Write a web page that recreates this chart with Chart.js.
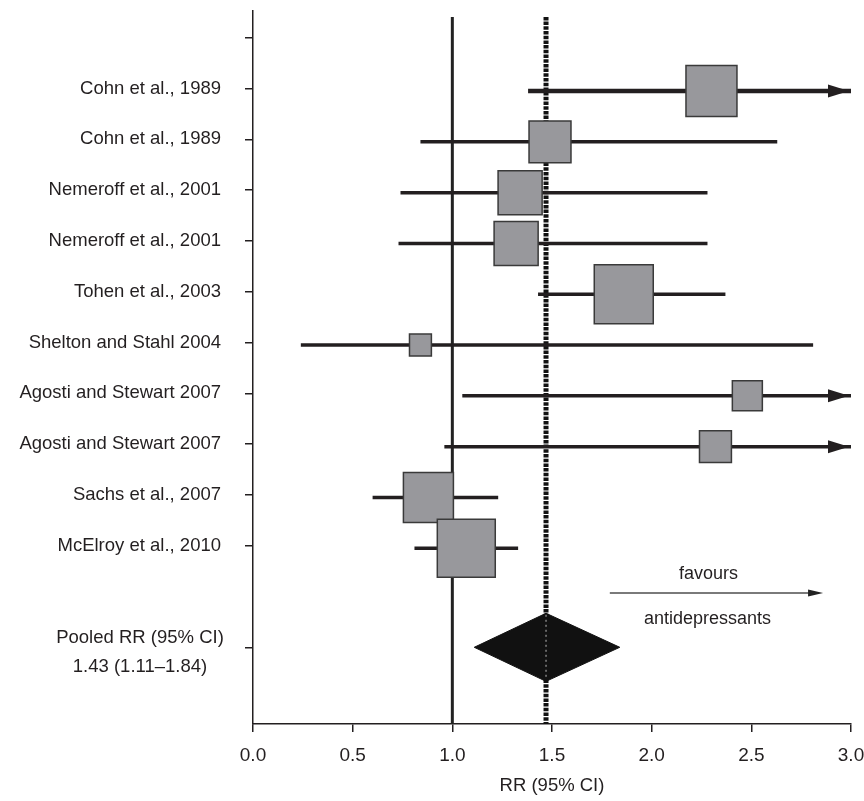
<!DOCTYPE html>
<html>
<head>
<meta charset="utf-8">
<script src="https://cdn.jsdelivr.net/npm/chart.js@4.4.0/dist/chart.umd.min.js"></script>
<style>
  body { margin: 0; background: #fff; }
</style>
</head>
<body>
<canvas id="forest" width="864" height="801"></canvas>
<script>
// study data (top row first)
const studies = [
  'Cohn et al., 1989', 'Cohn et al., 1989',
  'Nemeroff et al., 2001', 'Nemeroff et al., 2001',
  'Tohen et al., 2003', 'Shelton and Stahl 2004',
  'Agosti and Stewart 2007', 'Agosti and Stewart 2007',
  'Sachs et al., 2007', 'McElroy et al., 2010'
];
const rr = [2.30, 1.49, 1.34, 1.32, 1.86, 0.84, 2.48, 2.32, 0.88, 1.07];
const ciLow = [1.38, 0.84, 0.74, 0.73, 1.43, 0.24, 1.05, 0.96, 0.60, 0.81];
const ciHigh = [3.0, 2.63, 2.28, 2.28, 2.37, 2.81, 3.0, 3.0, 1.23, 1.33];
// upper limit runs off the axis (drawn as arrow)
const pastAxis = [true, false, false, false, false, false, true, true, false, false];
// relative study weights (box area)
const weights = [13.0, 8.8, 9.7, 9.7, 17.4, 2.4, 4.5, 5.1, 12.5, 16.8];

// pooled estimate (diamond as drawn)
const pooledLow = 1.11;
const pooledMark = 1.47;
const pooledHigh = 1.84;
const pooledLabel = ['Pooled RR (95% CI)', '1.43 (1.11\u20131.84)'];

const xTicks = [0, 0.5, 1, 1.5, 2, 2.5, 3];
const rowTicks = [0, 1, 2, 3, 4, 5, 6, 7, 8, 9, 10, 12];
const pooledRow = 12;

const FONT = '"Liberation Sans", Arial, Helvetica, sans-serif';
const INK = '#231f20';
const rowOf = i => i + 1.05;

// CI lines, one dataset per study
const ciSets = studies.map((s, i) => ({
  type: 'line',
  data: [{ x: ciLow[i], y: rowOf(i) }, { x: ciHigh[i], y: rowOf(i) }],
  borderColor: INK,
  borderWidth: i === 0 ? 4.5 : 3.5,
  pointRadius: 0,
  order: 4
}));

const boxSet = {
  type: 'scatter',
  data: rr.map((v, i) => ({ x: v, y: rowOf(i) })),
  pointStyle: 'rect',
  pointRadius: weights.map(w => 10 * Math.sqrt(w)),
  backgroundColor: '#98989c',
  borderColor: '#3a3a3a',
  borderWidth: 1.5,
  order: 1
};

const diamondSet = {
  type: 'line',
  data: [
    { x: pooledLow, y: pooledRow },
    { x: pooledMark, y: pooledRow - 0.67 },
    { x: pooledHigh, y: pooledRow },
    { x: pooledMark, y: pooledRow + 0.67 },
    { x: pooledLow, y: pooledRow }
  ],
  borderColor: '#111',
  backgroundColor: '#111',
  borderWidth: 1,
  pointRadius: 0,
  fill: 'shape',
  tension: 0,
  order: 3
};

const diamondDots = {
  type: 'line',
  data: [{ x: pooledMark, y: pooledRow - 0.64 }, { x: pooledMark, y: pooledRow + 0.64 }],
  borderColor: '#bbbbbb',
  borderWidth: 1,
  borderDash: [2, 3],
  pointRadius: 0,
  order: 2
};

const pooledLine = {
  type: 'line',
  data: [{ x: pooledMark, y: -0.41 }, { x: pooledMark, y: 13.51 }],
  borderColor: '#111',
  borderWidth: 5,
  borderDash: [3.5, 1.2],
  pointRadius: 0,
  order: 5
};

const nullLine = {
  type: 'line',
  data: [{ x: 1, y: -0.41 }, { x: 1, y: 13.51 }],
  borderColor: '#222',
  borderWidth: 3,
  pointRadius: 0,
  order: 6
};

// arrowheads, pooled label and "favours" note
const extras = {
  id: 'extras',
  afterDatasetsDraw(chart) {
    const { ctx, chartArea, scales: { x, y } } = chart;
    ctx.save();
    ctx.fillStyle = INK;
    pastAxis.forEach((p, i) => {
      if (!p) return;
      const py = y.getPixelForValue(rowOf(i));
      const tip = chartArea.right - 2;
      ctx.beginPath();
      ctx.moveTo(tip, py);
      ctx.lineTo(tip - 21, py - 6.5);
      ctx.lineTo(tip - 21, py + 6.5);
      ctx.closePath();
      ctx.fill();
    });

    // favours antidepressants
    const ay = y.getPixelForValue(10.93);
    const ax0 = x.getPixelForValue(1.79);
    const ax1 = x.getPixelForValue(2.86);
    ctx.strokeStyle = '#7a7a7a';
    ctx.lineWidth = 2;
    ctx.beginPath();
    ctx.moveTo(ax0, ay);
    ctx.lineTo(ax1 - 10, ay);
    ctx.stroke();
    ctx.fillStyle = '#222';
    ctx.beginPath();
    ctx.moveTo(ax1, ay);
    ctx.lineTo(ax1 - 15, ay - 3.5);
    ctx.lineTo(ax1 - 15, ay + 3.5);
    ctx.closePath();
    ctx.fill();

    ctx.fillStyle = INK;
    ctx.font = '18px ' + FONT;
    ctx.textAlign = 'center';
    ctx.textBaseline = 'middle';
    ctx.fillText('favours', x.getPixelForValue(2.285), y.getPixelForValue(10.56));
    ctx.fillText('antidepressants', x.getPixelForValue(2.28), y.getPixelForValue(11.45));

    // pooled label, centred lines
    ctx.font = '18.5px ' + FONT;
    const py = y.getPixelForValue(pooledRow);
    ctx.fillText(pooledLabel[0], 140, py - 9.5);
    ctx.fillText(pooledLabel[1], 140, py + 19.5);
    ctx.restore();
  }
};

new Chart(document.getElementById('forest'), {
  type: 'scatter',
  data: {
    datasets: [boxSet, diamondDots, diamondSet, ...ciSets, pooledLine, nullLine]
  },
  options: {
    responsive: false,
    animation: false,
    events: [],
    layout: { autoPadding: false, padding: { top: 11, right: 13, left: 0, bottom: 0 } },
    plugins: {
      legend: { display: false },
      tooltip: { enabled: false }
    },
    scales: {
      x: {
        type: 'linear',
        min: 0,
        max: 3,
        afterBuildTicks: s => { s.ticks = xTicks.map(v => ({ value: v })); },
        afterFit: s => { s.height = 77; s.paddingLeft = 0; s.paddingRight = 0; },
        grid: { drawOnChartArea: false, drawTicks: true, tickLength: 8, color: INK, lineWidth: 1.5 },
        border: { display: true, color: INK, width: 1.5 },
        ticks: {
          color: INK,
          font: { family: FONT, size: 19 },
          padding: 12,
          maxRotation: 0,
          callback: v => v.toFixed(1)
        },
        title: {
          display: true,
          text: 'RR (95% CI)',
          color: INK,
          font: { family: FONT, size: 18.5 },
          padding: { top: 2, bottom: 4 }
        }
      },
      y: {
        type: 'linear',
        reverse: true,
        min: -0.526,
        max: 13.51,
        afterBuildTicks: s => { s.ticks = rowTicks.map(v => ({ value: v })); },
        afterFit: s => { s.width = 253; s.paddingTop = 0; s.paddingBottom = 0; },
        grid: { drawOnChartArea: false, drawTicks: true, tickLength: 8, color: INK, lineWidth: 1.5 },
        border: { display: true, color: INK, width: 1.5 },
        ticks: {
          color: INK,
          font: { family: FONT, size: 18.5 },
          padding: 24,
          callback: v => (v >= 1 && v <= studies.length) ? studies[v - 1] : ''
        }
      }
    }
  },
  plugins: [extras]
});
</script>
</body>
</html>
